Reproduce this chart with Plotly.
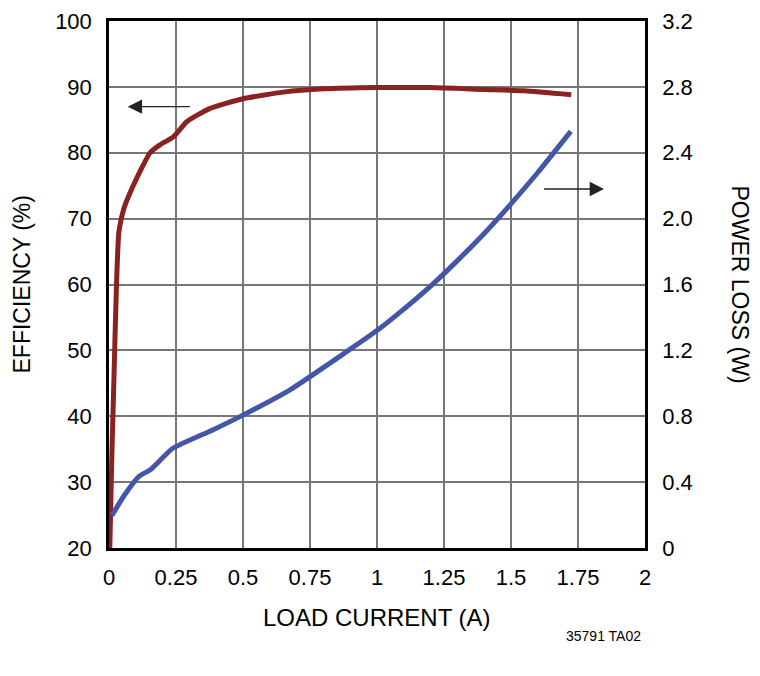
import plotly.graph_objects as go

# efficiency curve (left axis, %)
eff_current = [0.003, 0.01, 0.018, 0.028, 0.037, 0.056, 0.086, 0.12, 0.153, 0.19, 0.24,
               0.29, 0.375, 0.5, 0.65, 0.8, 1.0, 1.2, 1.4, 1.55, 1.725]
efficiency = [20, 33, 45, 60, 68, 71.6, 74.6, 77.5, 80, 81.2, 82.4,
              84.7, 86.7, 88.2, 89.2, 89.7, 89.9, 89.9, 89.6, 89.4, 88.8]

# power loss curve (right axis, W)
loss_current = [0.011, 0.056, 0.113, 0.157, 0.237, 0.387, 0.5, 0.677, 0.876, 1.0,
                1.1, 1.2, 1.3, 1.4, 1.5, 1.6, 1.723]
power_loss = [0.197, 0.317, 0.436, 0.478, 0.604, 0.717, 0.807, 0.962, 1.18, 1.32,
              1.45, 1.59, 1.745, 1.91, 2.09, 2.28, 2.53]

x_ticks = [0, 0.25, 0.5, 0.75, 1, 1.25, 1.5, 1.75, 2]
x_labels = ["0", "0.25", "0.5", "0.75", "1", "1.25", "1.5", "1.75", "2"]
y_ticks = [20, 30, 40, 50, 60, 70, 80, 90, 100]
y2_ticks = [0, 0.4, 0.8, 1.2, 1.6, 2.0, 2.4, 2.8, 3.2]
y2_labels = ["0", "0.4", "0.8", "1.2", "1.6", "2.0", "2.4", "2.8", "3.2"]

FONT = "Liberation Sans Narrow, Liberation Sans, Arial"

fig = go.Figure()
fig.add_trace(go.Scatter(x=eff_current, y=efficiency, mode="lines",
                         line=dict(color="#8a2222", width=5, shape="spline", smoothing=0.5),
                         showlegend=False))
fig.add_trace(go.Scatter(x=loss_current, y=power_loss, mode="lines", yaxis="y2",
                         line=dict(color="#4356a8", width=5, shape="spline", smoothing=0.5),
                         showlegend=False))

fig.update_layout(
    width=760, height=676,
    margin=dict(l=101, r=123, t=13, b=136),
    plot_bgcolor="white", paper_bgcolor="white",
    font=dict(family=FONT, size=22, color="black"),
    xaxis=dict(range=[0, 2], tickvals=x_ticks, ticktext=x_labels, automargin=False,
               showgrid=True, gridcolor="#777777", gridwidth=1.5,
               showline=True, linecolor="black", linewidth=2.5, mirror=True,
               ticks="", ticklabelstandoff=8, zeroline=False, ticklabeloverflow="allow"),
    yaxis=dict(range=[20, 100], tickvals=y_ticks, automargin=False,
               showgrid=True, gridcolor="#777777", gridwidth=1.5,
               showline=True, linecolor="black", linewidth=2.5, mirror=True,
               ticks="", ticklabelstandoff=10, zeroline=False, ticklabeloverflow="allow"),
    yaxis2=dict(range=[0, 3.2], tickvals=y2_ticks, ticktext=y2_labels, automargin=False,
                overlaying="y", side="right", showgrid=False, zeroline=False,
                showline=True, linecolor="black", linewidth=2.5,
                ticks="", ticklabelstandoff=10, ticklabeloverflow="allow"),
)

# axis titles
fig.add_annotation(text="EFFICIENCY (%)", textangle=-90, xref="paper", yref="paper",
                   x=0, y=0.5, xanchor="center", yanchor="middle", xshift=-88,
                   showarrow=False, font=dict(family=FONT, size=23))
fig.add_annotation(text="POWER LOSS (W)", textangle=90, xref="paper", yref="paper",
                   x=1.0, y=0.5, xanchor="center", yanchor="middle", xshift=95,
                   showarrow=False, font=dict(family=FONT, size=23))
fig.add_annotation(text="LOAD CURRENT (A)", xref="paper", yref="paper",
                   x=0.5, y=0, xanchor="center", yanchor="middle", yshift=-69,
                   showarrow=False, font=dict(family=FONT, size=24))
fig.add_annotation(text="35791 TA02", xref="paper", yref="paper", x=1.0, y=0,
                   xanchor="right", yanchor="middle", xshift=-2, yshift=-88,
                   showarrow=False, font=dict(family=FONT, size=14))

# direction arrows
fig.add_annotation(x=0.07, y=87, ax=0.307, ay=87, xref="x", yref="y", axref="x", ayref="y",
                   text="", showarrow=True, arrowhead=2, arrowsize=2.2, arrowwidth=1.3,
                   arrowcolor="#222222")
fig.add_annotation(x=1.847, y=2.18, ax=1.618, ay=2.18, xref="x", yref="y2", axref="x", ayref="y2",
                   text="", showarrow=True, arrowhead=2, arrowsize=2.2, arrowwidth=1.3,
                   arrowcolor="#222222")

fig.write_html("out.html")
